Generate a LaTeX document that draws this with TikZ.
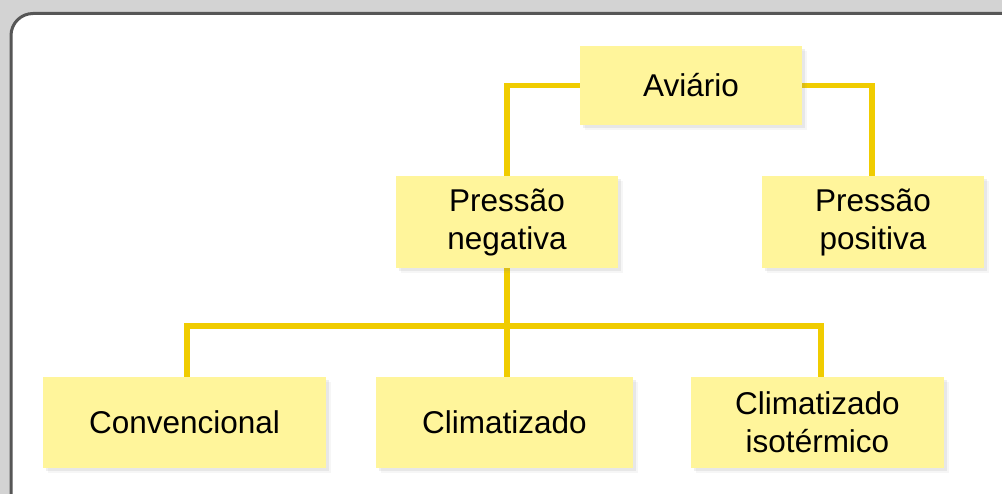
\documentclass[tikz,border=0pt]{standalone}
\usepackage{fontspec}
\setmainfont{Liberation Sans}
\usetikzlibrary{shadows,backgrounds}
\definecolor{linec}{HTML}{F0CC00}
\definecolor{boxc}{HTML}{FFF59B}
\definecolor{bgc}{HTML}{D3D3D3}
\definecolor{framec}{HTML}{565656}
\tikzset{
  box/.style={fill=boxc, draw=none, align=center, inner sep=0pt,
    font=\fontsize{31.5}{38}\selectfont,
    drop shadow={opacity=0.07, shadow xshift=5pt, shadow yshift=-5pt},
    drop shadow={opacity=0.12, shadow xshift=3pt, shadow yshift=-3pt}},
  conn/.style={draw=linec, line width=5.5pt, line join=miter}
}
\begin{document}
\begin{tikzpicture}[x=1pt,y=-1pt]
\useasboundingbox (0,0) rectangle (1002,494);
\node[box, minimum width=222pt, minimum height=79pt] (av) at (691,85.5) {Aviário};
\node[box, minimum width=222pt, minimum height=92pt] (pn) at (507,222) {Pressão\\negativa};
\node[box, minimum width=222pt, minimum height=92pt] (pp) at (873,222) {Pressão\\positiva};
\node[box, minimum width=283pt, minimum height=91pt] (cv) at (184.5,422.5) {Convencional};
\node[box, minimum width=257pt, minimum height=91pt] (cl) at (504.5,422.5) {Climatizado};
\node[box, minimum width=253pt, minimum height=91pt] (ci) at (817.5,422.5) {Climatizado\\isotérmico};
\coordinate (bus) at (507,326);
\begin{scope}[on background layer]
\fill[bgc] (0,0) rectangle (1002,494);
\draw[framec, fill=white, line width=3pt, rounded corners=22pt] (11,13.5) rectangle (1030,520);
\draw[conn] (av.west) -| (pn.north);
\draw[conn] (av.east) -| ([xshift=-1pt]pp.north);
\draw[conn] (pn.south) -- (pn.south |- cl.north);
\draw[conn] ([xshift=2.5pt]cv.north) |- (bus) -| ([xshift=3.5pt]ci.north);
\end{scope}
\end{tikzpicture}
\end{document}
